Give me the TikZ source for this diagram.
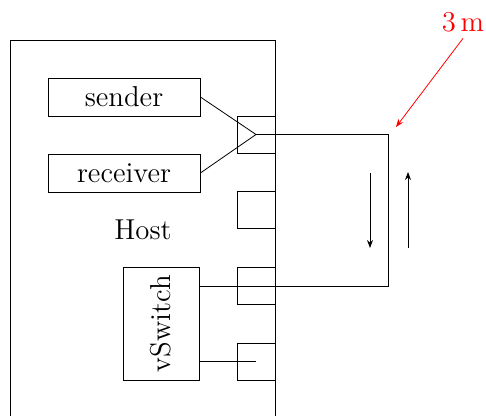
\documentclass[tikz,border=0pt]{standalone}
\usepackage{tikz}
\usetikzlibrary{arrows.meta, positioning}
\tikzset{
	box/.style={draw, inner sep=0pt},
	app/.style={box, minimum width=76pt, minimum height=19pt, font=\Large},
	port/.style={box, minimum width=19pt, minimum height=18.5pt},
	cable/.style={draw},
	flow/.style={-{Stealth[length=4pt, width=3pt]}}
}

\begin{document}
\begin{tikzpicture}[x=0.5pt, y=-0.5pt]
			
			\useasboundingbox (0,0) rectangle (486,416);
			\clip (0,0) rectangle (486,416);
			
			% --- host ---
			\node[box, minimum width=132.5pt, minimum height=195pt] (host) at (142.5,235) {};
			\node[font=\Large] (hostlabel) at (143,230) {Host};
			
			% --- applications ---
			\node[app] (sender) at (124,97) {sender};
			\node[app] (receiver) at (124,173) {receiver};
			\node[box, rotate=90, minimum width=56.5pt, minimum height=38pt, font=\Large] (vswitch) at (161,323.5) {vSwitch};
			
			% --- ports ---
			\foreach \i/\y in {1/134.5, 2/210, 3/286, 4/361.5}
				\node[port] (port\i) at (256,\y) {};
			
			% --- cable ---
			\coordinate (turn1) at (388,134.5);
			\coordinate (turn2) at (388,286);
			\draw (sender.east) -- (port1.center) -- (receiver.east);
			\draw[cable] (port1.center) -- (turn1) -- (turn2) -- (vswitch.south |- port3);
			\draw (vswitch.south |- port4) -- (port4.center);
			
			% --- direction ---
			\coordinate (downtop) at (370,173);
			\coordinate (downbot) at (370,248);
			\coordinate (uptop) at (408,172);
			\coordinate (upbot) at (408,248);
			\draw[flow] (downtop) -- (downbot);
			\draw[flow] (upbot) -- (uptop);
			
			% --- length ---
			\node[font=\Large, text=red] (dist) at (463,22) {$3\,\mathrm{m}$};
			\coordinate (disttip) at (396,127);
			\draw[flow, red] (dist.south) -- (disttip);
			
		\end{tikzpicture}
\end{document}
